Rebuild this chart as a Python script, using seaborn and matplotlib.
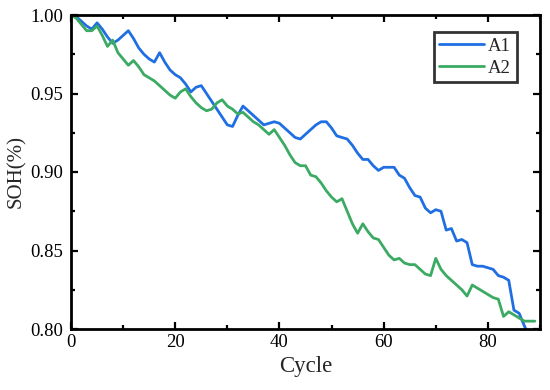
import numpy as np
import pandas as pd
import matplotlib
matplotlib.use("Agg")
import matplotlib.pyplot as plt
from matplotlib.ticker import MultipleLocator
import seaborn as sns

cycles_a1 = list(range(0, 89))
soh_a1 = [1.000, 0.999, 0.996, 0.993, 0.991, 0.995, 0.991, 0.986, 0.982, 0.984,
          0.987, 0.990, 0.985, 0.979, 0.975, 0.972, 0.970, 0.976, 0.970, 0.965,
          0.962, 0.960, 0.956, 0.951, 0.954, 0.955, 0.950, 0.945, 0.940, 0.935,
          0.930, 0.929, 0.936, 0.942, 0.939, 0.936, 0.933, 0.930, 0.931, 0.932,
          0.931, 0.928, 0.925, 0.922, 0.921, 0.924, 0.927, 0.930, 0.932, 0.932,
          0.928, 0.923, 0.922, 0.921, 0.917, 0.912, 0.908, 0.908, 0.904, 0.901,
          0.903, 0.903, 0.903, 0.898, 0.896, 0.890, 0.885, 0.884, 0.877, 0.874,
          0.876, 0.875, 0.863, 0.864, 0.856, 0.857, 0.855, 0.841, 0.840, 0.840,
          0.839, 0.838, 0.834, 0.833, 0.831, 0.812, 0.810, 0.802, 0.795]

cycles_a2 = list(range(0, 90))
soh_a2 = [1.000, 0.998, 0.994, 0.990, 0.990, 0.993, 0.987, 0.980, 0.984, 0.976,
          0.972, 0.968, 0.971, 0.967, 0.962, 0.960, 0.958, 0.955, 0.952, 0.949,
          0.947, 0.951, 0.953, 0.948, 0.944, 0.941, 0.939, 0.940, 0.944, 0.946,
          0.942, 0.940, 0.937, 0.938, 0.935, 0.932, 0.930, 0.927, 0.924, 0.927,
          0.922, 0.917, 0.911, 0.906, 0.904, 0.904, 0.898, 0.897, 0.893, 0.888,
          0.884, 0.881, 0.883, 0.875, 0.867, 0.861, 0.867, 0.862, 0.858, 0.857,
          0.852, 0.847, 0.844, 0.845, 0.842, 0.841, 0.841, 0.838, 0.835, 0.834,
          0.845, 0.838, 0.834, 0.831, 0.828, 0.825, 0.821, 0.828, 0.826, 0.824,
          0.822, 0.820, 0.819, 0.808, 0.811, 0.809, 0.807, 0.805, 0.805, 0.805]

series_names = ["A1", "A2"]
colors = ["#1F6FE3", "#3BAA63"]

df = pd.concat([
    pd.DataFrame({"Cycle": cycles_a1, "SOH": soh_a1, "Series": series_names[0]}),
    pd.DataFrame({"Cycle": cycles_a2, "SOH": soh_a2, "Series": series_names[1]}),
], ignore_index=True)

sns.set_style("ticks")
plt.rcParams["font.family"] = ["Liberation Serif", "DejaVu Serif"]

fig = plt.figure(figsize=(5.5, 3.9), dpi=100)
ax = fig.add_axes([71 / 550, 1 - 329 / 390, (540 - 71) / 550, (329 - 15) / 390])

sns.lineplot(data=df, x="Cycle", y="SOH", hue="Series", hue_order=series_names,
             palette=colors, linewidth=2.0, ax=ax, estimator=None, sort=False)

ax.set_xlim(0, 90)
ax.set_ylim(0.80, 1.00)
ax.xaxis.set_major_locator(MultipleLocator(20))
ax.xaxis.set_minor_locator(MultipleLocator(10))
ax.yaxis.set_major_locator(MultipleLocator(0.05))
ax.yaxis.set_minor_locator(MultipleLocator(0.025))
ax.yaxis.set_major_formatter(matplotlib.ticker.FormatStrFormatter("%.2f"))

for s in ax.spines.values():
    s.set_visible(True)
    s.set_linewidth(2.0)
    s.set_color("black")

ax.tick_params(which="both", direction="in", top=True, right=True, width=1.6, colors="black")
ax.tick_params(which="major", length=5, labelsize=13.5)
ax.tick_params(axis="y", which="major", pad=5.5)
ax.tick_params(axis="x", which="major", pad=3.5)
ax.tick_params(which="minor", length=3)

ax.set_xlabel("Cycle", fontsize=16.5, labelpad=4)
ax.set_ylabel("SOH(%)", fontsize=15, labelpad=3)

leg = ax.legend(loc="upper right", bbox_to_anchor=(0.95, 0.946), frameon=True,
                fancybox=False, edgecolor="black", fontsize=13.5, handlelength=2.4,
                handletextpad=0.2, borderpad=0.3, labelspacing=0.25, borderaxespad=0)
leg.get_frame().set_linewidth(2.0)
leg.set_title(None)

fig.savefig("out.png", dpi=100)
